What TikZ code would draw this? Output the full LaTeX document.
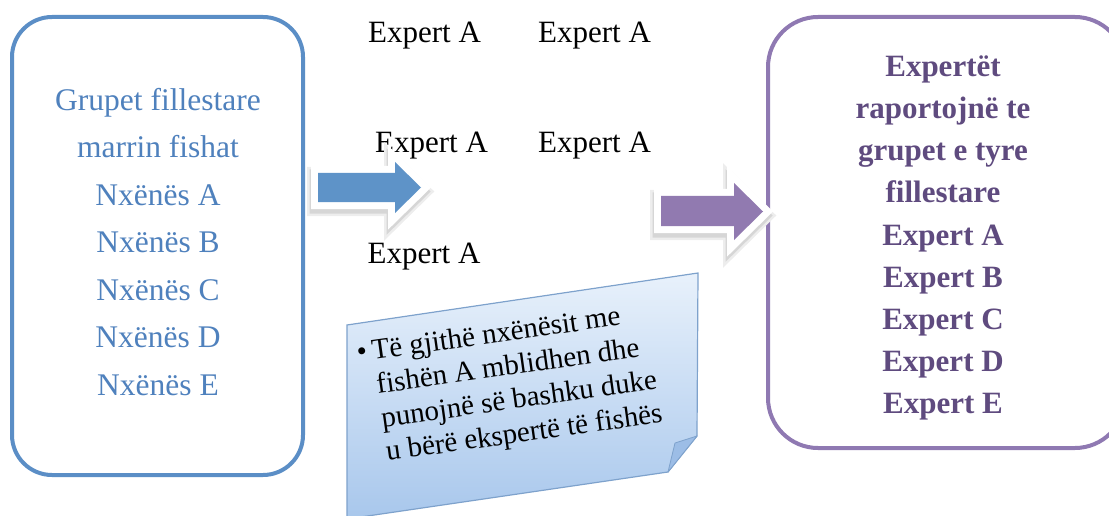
\documentclass[tikz,border=0pt]{standalone}
\usepackage{fontspec}
\setmainfont{Liberation Serif}

\definecolor{boxblue}{HTML}{5B8EC6}
\definecolor{txtblue}{HTML}{4F81BD}
\definecolor{arrowblue}{HTML}{5E93C8}
\definecolor{boxpurple}{HTML}{8F79B2}
\definecolor{arrowpurple}{HTML}{917AB0}
\definecolor{txtpurple}{HTML}{5F4B7F}
\definecolor{notetop}{HTML}{E8F1FB}
\definecolor{notebot}{HTML}{A8C7EC}
\definecolor{noteedge}{HTML}{7EA2CC}
\definecolor{noteflap}{HTML}{9CBDE6}

\tikzset{
  roundbox/.style={line width=4pt, fill=white, inner sep=0pt},
  lefttext/.style={text=txtblue, align=center, inner sep=0pt,
    font=\fontsize{31.5}{47.5}\selectfont},
  righttext/.style={text=txtpurple, align=center, inner sep=0pt,
    font=\bfseries\fontsize{31}{42.2}\selectfont},
  expert/.style={anchor=base, inner sep=0pt, font=\fontsize{31}{37}\selectfont},
  notetext/.style={inner sep=0pt, font=\fontsize{29}{34}\selectfont},
  shadowsoft/.style={draw=black!7, fill=black!7, line width=20pt, line join=miter},
  shadowcore/.style={draw=black!16, fill=black!16, line width=15pt, line join=miter},
  arrowrim/.style={draw=white, fill=white, line width=14pt, line join=miter},
}

\begin{document}
\begin{tikzpicture}[x=1pt, y=-1pt]
  \useasboundingbox (0,0) rectangle (1109,516);

  % the two rounded panels
  \node[roundbox, draw=boxblue, rounded corners=40pt,
        minimum width=291pt, minimum height=458pt] (leftbox) at (157.5,246) {};
  \node[roundbox, draw=boxpurple, rounded corners=50pt,
        minimum width=357pt, minimum height=431pt] (rightbox) at (946.5,232.5) {};

  \node[lefttext] (groups) at (158,242)
    {Grupet fillestare\\marrin fishat\\Nxënës A\\Nxënës B\\Nxënës C\\Nxënës D\\Nxënës E};
  \node[righttext] (report) at (943,238)
    {Expertët\\raportojnë te\\grupet e tyre\\fillestare\\Expert A\\Expert B\\Expert C\\Expert D\\Expert E};

  % expert group labels
  \node[expert] (ea1) at (424.5,43) {Expert A};
  \node[expert] (ea2) at (594.5,43) {Expert A};
  \node[expert] (ea3) at (431.5,153) {Expert A};
  \node[expert] (ea4) at (594.5,153) {Expert A};
  \node[expert] (ea5) at (424,263) {Expert A};

  % sticky note with folded corner
  \path[draw=noteedge, line width=1.2pt, top color=notetop, bottom color=notebot]
    (347,325) -- (698,273) -- (697,436) -- (668,472) -- (347,519) -- cycle;
  \path[draw=noteedge, line width=0.8pt, fill=noteflap, line join=round]
    (697,436) -- (675,443) -- (668,472) -- cycle;
  \node[notetext, rotate=8, anchor=base west] (note) at (358,362)
    {\begin{tabular}[t]{@{}l@{\hspace{5pt}}l@{}}
      \textbullet & Të gjithë nxënësit me\\
                  & fishën A mblidhen dhe\\
                  & punojnë së bashku duke\\
                  & u bërë ekspertë të fishës
     \end{tabular}};

  % block arrows: soft shadow, white rim, coloured body
  \begin{scope}[shift={(-1,4)}]
    \path[shadowsoft] (318,173) -- (395,173) -- (395,162) -- (421,187.5)
      -- (395,213) -- (395,202) -- (318,202) -- cycle;
    \path[shadowcore] (318,173) -- (395,173) -- (395,162) -- (421,187.5)
      -- (395,213) -- (395,202) -- (318,202) -- cycle;
    \path[shadowsoft] (661,196) -- (734,196) -- (734,183) -- (763,211.5)
      -- (734,240) -- (734,226) -- (661,226) -- cycle;
    \path[shadowcore] (661,196) -- (734,196) -- (734,183) -- (763,211.5)
      -- (734,240) -- (734,226) -- (661,226) -- cycle;
  \end{scope}
  \path[arrowrim] (318,173) -- (395,173) -- (395,162) -- (421,187.5)
    -- (395,213) -- (395,202) -- (318,202) -- cycle;
  \path[fill=arrowblue] (318,173) -- (395,173) -- (395,162) -- (421,187.5)
    -- (395,213) -- (395,202) -- (318,202) -- cycle;
  \path[arrowrim] (661,196) -- (734,196) -- (734,183) -- (763,211.5)
    -- (734,240) -- (734,226) -- (661,226) -- cycle;
  \path[fill=arrowpurple] (661,196) -- (734,196) -- (734,183) -- (763,211.5)
    -- (734,240) -- (734,226) -- (661,226) -- cycle;
\end{tikzpicture}
\end{document}
